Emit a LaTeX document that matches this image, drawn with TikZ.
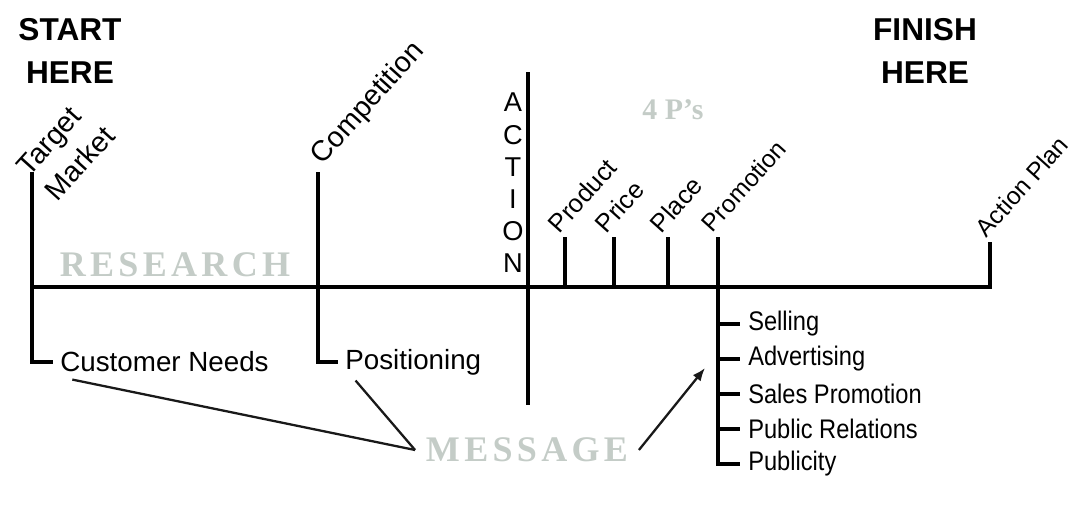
\documentclass[tikz,border=0pt]{standalone}
\usepackage{fontspec}
\setmainfont{Liberation Sans}
\newfontfamily\phasefont[LetterSpace=12]{Liberation Serif}
\newfontfamily\tagfont{Liberation Serif}
\newfontfamily\listfont[FakeStretch=0.88]{Liberation Sans}
\usetikzlibrary{arrows.meta,positioning}
\definecolor{phasegray}{RGB}{196,204,199}
\tikzset{
  spine/.style={line width=2.8pt,draw=black},
  branch/.style={line width=2.4pt,draw=black},
  link/.style={line width=1.3pt,draw=black!90},
  pointer/.style={link,-{Latex[length=2.6mm,width=2mm]}},
  heading/.style={font=\bfseries\fontsize{18}{24}\selectfont,align=center,inner sep=0pt},
  tilted/.style={rotate=48,anchor=south west,inner sep=0pt,
    font=\fontsize{14.5}{21}\selectfont},
  phase/.style={font=\phasefont\bfseries\fontsize{20.5}{24}\selectfont,
    text=phasegray,inner sep=0pt},
  lbl/.style={font=\fontsize{15.8}{18}\selectfont,anchor=west,
    inner ysep=0pt,inner xsep=4pt},
  promoitem/.style={font=\listfont\fontsize{15.3}{18}\selectfont,anchor=west,
    inner ysep=0pt,inner xsep=4.5pt}
}

\begin{document}
\begin{tikzpicture}[x=0.02cm,y=-0.02cm]
\useasboundingbox (0,0) rectangle (1083,508);

% 1. Inicio y fin
\node[heading] (start) at (70,51) {START\\HERE};
\node[heading] (finish) at (925,51) {FINISH\\HERE};

% 2. Linea principal y marcas
\coordinate (origin) at (32,287);
\coordinate (tmtop) at (32,172);
\coordinate (comptop) at (318,172);
\coordinate (acttop) at (528,72);
\coordinate (actbot) at (528,405);
\coordinate (prodtop) at (565,237);
\coordinate (pricetop) at (614,237);
\coordinate (placetop) at (668,237);
\coordinate (promotop) at (718,237);
\coordinate (plantop) at (990,242);

\draw[spine] (origin) -| (plantop);
\draw[branch] (acttop) -- (actbot);
\foreach \t in {prodtop,pricetop,placetop}
  \draw[branch] (\t) -- (\t |- origin);

\node[tilted,align=left,font=\fontsize{16.3}{21.5}\selectfont] (target) at (58,203)
  {Target\\Market};
\node[tilted,font=\fontsize{16.3}{21}\selectfont] (competition) at (327,170) {Competition};
\node[tilted] (product) at (560,235) {Product};
\node[tilted] (price) at (607,235) {Price};
\node[tilted] (place) at (662,235) {Place};
\node[tilted,font=\fontsize{14}{17}\selectfont] (promotion) at (713,234) {Promotion};
\node[tilted,font=\fontsize{14}{17}\selectfont] (actionplan) at (987,239) {Action Plan};

\node[font=\fontsize{15.5}{18.3}\selectfont,align=center,inner sep=0pt] (action)
  at (513,183) {A\\C\\T\\I\\O\\N};

% 3. Fases
\node[phase] (research) at (175,265) {RESEARCH};
\node[phase,inner xsep=6pt] (message) at (527,450) {MESSAGE};
\node[font=\tagfont\bfseries\fontsize{17}{20}\selectfont,text=phasegray,inner sep=0pt]
  (fourps) at (673,110) {4 P’s};

% 4. Investigacion
\node[lbl] (custneeds) at (53,362) {Customer Needs};
\node[lbl] (positioning) at (338,362) {Positioning};
\draw[branch] (tmtop) |- (custneeds.west);
\draw[branch] (comptop) |- (positioning.west);

% 5. Promocion
\node[promoitem] (selling) at (740,324) {Selling};
\node[promoitem] (advertising) at (740,359) {Advertising};
\node[promoitem] (salespromo) at (740,394) {Sales Promotion};
\node[promoitem] (publicrel) at (740,429) {Public Relations};
\node[promoitem] (publicity) at (740,464) {Publicity};
\draw[branch] (promotop) |- (publicity.west);
\foreach \i in {selling,advertising,salespromo,publicrel}
  \draw[branch] (\i.west -| promotop) -- (\i.west);

% 6. Mensaje
\coordinate (promoarrow) at (705,368);
\draw[link] ([xshift=11pt,yshift=-4pt]custneeds.south west) -- (message.west);
\draw[link] ([xshift=10pt,yshift=-3pt]positioning.south west) -- (message.west);
\draw[pointer] (message.east) -- (promoarrow);

\end{tikzpicture}
\end{document}
